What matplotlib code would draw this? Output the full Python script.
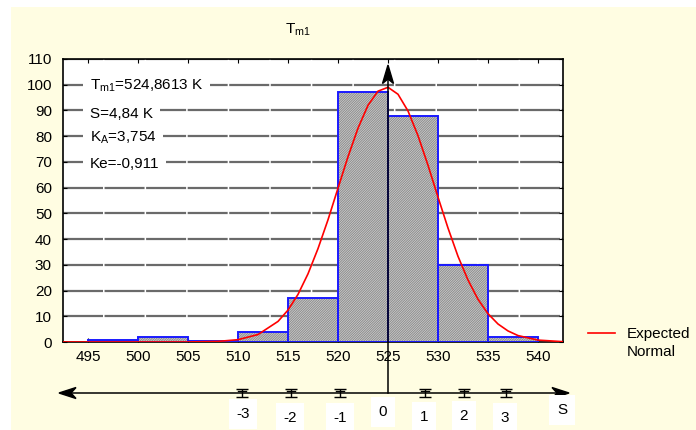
import numpy as np
import matplotlib
matplotlib.use('Agg')
from matplotlib import pyplot as plt
from matplotlib.patches import Rectangle, Polygon

plt.rcParams['font.family'] = 'Liberation Sans'
plt.rcParams['mathtext.fontset'] = 'custom'
plt.rcParams['mathtext.rm'] = 'Liberation Sans'
plt.rcParams['hatch.linewidth'] = 0.7

# histogram of T_m1, bins of 5 K
bin_left = [495, 500, 505, 510, 515, 520, 525, 530, 535]
counts = [0.7, 2, 0.5, 4, 17, 97, 88, 30, 2]

# expected normal curve
norm_x = [492.5, 505, 508, 510, 512, 514, 515, 516, 517, 518, 519, 520, 521, 522,
          523, 524, 525, 526, 527, 528, 529, 530, 531, 532, 533, 534, 535, 536,
          537, 538, 540, 542.5]
norm_y = [0.0, 0.02, 0.23, 0.9, 2.9, 8.0, 12.4, 18.5, 26.5, 36.3, 47.5, 59.8, 72.0,
          83.1, 92.0, 97.5, 99.0, 96.3, 89.8, 80.2, 68.7, 56.3, 44.3, 33.3, 24.1,
          16.6, 11.0, 7.0, 4.3, 2.5, 0.74, 0.13]

xticks = [495, 500, 505, 510, 515, 520, 525, 530, 535, 540]
yticks = list(range(0, 111, 10))

stats_text = [r'T$_{\rm m1}$=524,8613 K', 'S=4,84 K', r'K$_{\rm A}$=3,754', 'Ke=-0,911']
stats_y = [99.5, 88.5, 79.5, 69]

# S axis marks (in K) and labels
s_pos = [510.4, 515.3, 520.2, 528.7, 532.6, 536.8]
s_labels = ['-3', '-2', '-1', '0', '1', '2', '3', 'S']
s_label_x = [243, 290, 340, 383, 424, 464, 505, 562]
s_label_y = [414, 418, 418, 412, 417, 416, 418, 410]

W, H = 696, 430
fig = plt.figure(figsize=(W / 100, H / 100), dpi=100, facecolor='white')
fig.patches.append(Rectangle((11 / W, 0), 1, 1 - 7 / H, transform=fig.transFigure,
                             facecolor='#fffde2', edgecolor='none', zorder=-10))

ax = fig.add_axes([63 / W, 1 - 342 / H, 500 / W, 283 / H])
ax.set_facecolor('white')
ax.set_xlim(492.5, 542.5)
ax.set_ylim(0, 110)
ax.set_xticks(xticks)
ax.set_yticks(yticks)
ax.tick_params(direction='in', length=3, top=True, right=True, labelsize=11, pad=8,
               colors='black')
ax.tick_params(axis='x', pad=6)
for s in ax.spines.values():
    s.set_linewidth(1.2)

for yv in yticks[1:]:
    ax.axhline(yv, color='#6a6a6a', lw=1.6, dashes=(18, 0.7), zorder=1)

ax.bar(bin_left, counts, width=5, align='edge', color='#d2d2d2', edgecolor='#8c8c8c',
       linewidth=0, hatch='/' * 14, zorder=2)
ax.bar(bin_left, counts, width=5, align='edge', fill=False, edgecolor='#1a1aff',
       linewidth=1.4, zorder=3)
ax.plot(norm_x, norm_y, color='#ff0000', lw=1.2, zorder=4)

for t, yv in zip(stats_text, stats_y):
    ax.text(495.2, yv, t, fontsize=11, va='center', ha='left', zorder=5,
            bbox=dict(boxstyle='square,pad=0.45', fc='white', ec='none'))

# overlay in pixel coordinates for annotations outside the plot
ov = fig.add_axes([0, 0, 1, 1], facecolor='none')
ov.set_xlim(0, W)
ov.set_ylim(H, 0)
ov.axis('off')

fig.canvas.draw()
to_px = lambda xv: ov.transData.inverted().transform(ax.transData.transform((xv, 0)))[0]

fig.text(298 / W, 1 - 30 / H, r'T$_{\rm m1}$', ha='center', va='center', fontsize=11)

# legend
ov.plot([588, 615], [333, 333], color='#ff0000', lw=1.2)
ov.text(627, 343, 'Expected\nNormal', fontsize=11, va='center', ha='left', linespacing=1.3)

# S axis with stealth arrowheads
ax_y = 393
ov.plot([66, 562], [ax_y, ax_y], color='black', lw=1.1)
ov.add_patch(Polygon([(59, ax_y), (76, ax_y - 5.5), (71, ax_y), (76, ax_y + 5.5)],
                     closed=True, color='black'))
ov.add_patch(Polygon([(569, ax_y), (552, ax_y - 5.5), (557, ax_y), (552, ax_y + 5.5)],
                     closed=True, color='black'))
x0 = to_px(525)
ov.plot([x0, x0], [ax_y, 72], color='black', lw=1.1)
ov.add_patch(Polygon([(x0, 65), (x0 - 5.5, 83.5), (x0, 79), (x0 + 5.5, 83.5)],
                     closed=True, color='black'))
for sp in s_pos:
    xp = to_px(sp)
    ov.errorbar([xp], [392.5], yerr=[[4], [4]], fmt='none', ecolor='black', elinewidth=1,
                capsize=4, capthick=1)
    ov.plot([xp - 4, xp + 4], [391, 391], color='black', lw=1)

for lab, lx, ly in zip(s_labels, s_label_x, s_label_y):
    ov.text(lx, ly, lab, fontsize=11, ha='center', va='center',
            bbox=dict(boxstyle='square,pad=0.5', fc='white', ec='none'))

fig.savefig('out.png', dpi=100, facecolor=fig.get_facecolor())
